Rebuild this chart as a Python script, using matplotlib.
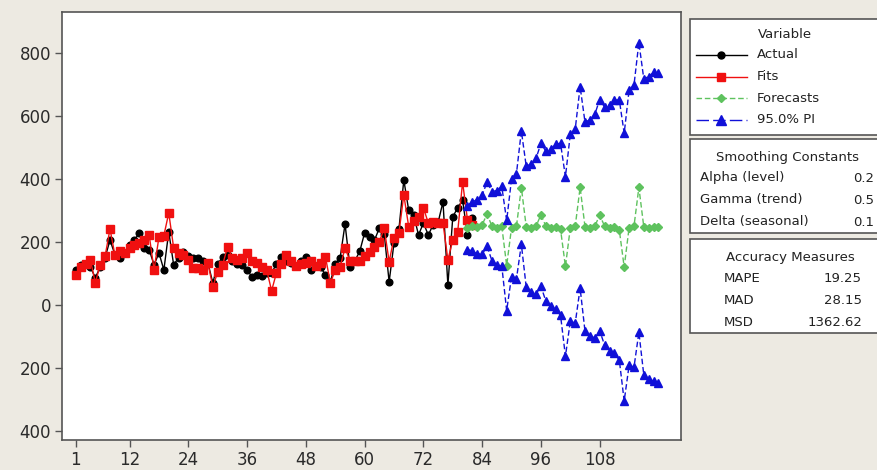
"""Winters' method plot: actual, fits, forecasts and 95% PI."""

import matplotlib

matplotlib.use("Agg")
import matplotlib.pyplot as plt  # noqa: E402
from matplotlib.lines import Line2D  # noqa: E402
from matplotlib.patches import Rectangle  # noqa: E402

ACTUAL = [
    111, 127, 130, 121, 86, 120, 150, 206, 160, 149,
    165, 190, 206, 229, 181, 175, 127, 165, 111, 232,
    127, 150, 168, 155, 150, 149, 140, 133, 70, 130,
    152, 159, 140, 130, 127, 111, 89, 95, 92, 100,
    102, 130, 152, 140, 133, 125, 140, 152, 111, 125,
    120, 95, 73, 130, 150, 257, 121, 140, 170, 229,
    216, 205, 244, 225, 73, 197, 240, 397, 300, 286,
    222, 260, 222, 255, 262, 327, 63, 280, 308, 333,
    222, 276,
]
FITS = [
    95, 121, 130, 143, 70, 127, 155, 241, 159, 170,
    165, 180, 190, 195, 205, 222, 111, 216, 220, 292,
    181, 165, 159, 143, 117, 118, 111, 133, 57, 105,
    127, 184, 150, 143, 149, 165, 140, 133, 120, 111,
    45, 102, 130, 159, 140, 125, 130, 133, 140, 125,
    133, 152, 70, 110, 121, 181, 140, 140, 140, 155,
    168, 185, 200, 244, 137, 213, 229, 349, 248, 265,
    279, 308, 260, 262, 260, 260, 143, 206, 232, 390,
    270, 255,
]
FORECAST_START = 81
FORECASTS = [
    245, 250, 248, 255, 288, 250, 245, 250, 125, 245,
    250, 372, 248, 245, 250, 286, 250, 245, 248, 240,
    122, 245, 250, 373, 248, 245, 250, 285, 250, 245,
    248, 238, 120, 245, 250, 373, 248, 245, 248, 246,
]
PI_UPPER = [
    315, 328, 334, 349, 390, 360, 363, 376, 268, 400,
    417, 552, 440, 448, 465, 513, 488, 495, 510, 513,
    407, 542, 558, 693, 580, 588, 605, 652, 628, 635,
    650, 651, 545, 682, 698, 833, 718, 725, 738, 735,
]
PI_LOWER = [
    175, 172, 162, 161, 186, 140, 127, 124, -18, 90,
    83, 192, 56, 42, 35, 59, 12, -5, -14, -33,
    -163, -52, -58, 53, -84, -98, -105, -82, -128, -145,
    -154, -175, -305, -192, -198, -87, -222, -235, -242, -248,
]
X_TICKS = [1, 12, 24, 36, 48, 60, 72, 84, 96, 108]
Y_TICKS = [-400, -200, 0, 200, 400, 600, 800]
Y_TICK_LABELS = ["400", "200", "0", "200", "400", "600", "800"]
SMOOTHING = [("Alpha (level)", "0.2"), ("Gamma (trend)", "0.5"), ("Delta (seasonal)", "0.1")]
ACCURACY = [("MAPE", "19.25"), ("MAD", "28.15"), ("MSD", "1362.62")]

W, H = 877, 470
BG = "#EDEAE2"
BLACK = "#000000"
RED = "#F01010"
GREEN = "#5EC25E"
BLUE = "#1010D8"
FRAME = "#555555"
TEXT = "#222222"


def fx(x):
    return x / W


def fy(y):
    return 1 - y / H


def main():
    plt.rcParams["font.family"] = ["DejaVu Sans"]
    fig = plt.figure(figsize=(W / 100, H / 100), dpi=100, facecolor=BG)
    ax = fig.add_axes([fx(62), fy(440), (681 - 62) / W, (440 - 12) / H])
    ax.set_facecolor("white")

    t_obs = list(range(1, len(ACTUAL) + 1))
    t_fc = list(range(FORECAST_START, FORECAST_START + len(FORECASTS)))

    ax.plot(t_obs, ACTUAL, color=BLACK, lw=1.0, marker="o", ms=4.8, zorder=3)
    ax.plot(t_obs, FITS, color=RED, lw=1.0, marker="s", ms=5.2, zorder=3)
    ax.plot(t_fc, FORECASTS, color=GREEN, lw=1.0, ls=(0, (4, 2)), marker="D", ms=4.5, zorder=4)
    for band in (PI_UPPER, PI_LOWER):
        ax.plot(t_fc, band, color=BLUE, lw=1.0, ls=(0, (4, 2)), marker="^", ms=6.2, zorder=4)

    ax.set_xlim(-1.8, 124.6)
    ax.set_ylim(-429, 930)
    ax.set_xticks(X_TICKS)
    ax.set_yticks(Y_TICKS)
    ax.set_yticklabels(Y_TICK_LABELS)
    ax.tick_params(direction="out", length=5, width=1, color=FRAME,
                   labelsize=12, labelcolor="#2a2a2a", pad=3)
    for spine in ax.spines.values():
        spine.set_color(FRAME)
        spine.set_linewidth(1.2)

    # side panels
    for top, bottom in [(19, 135), (139, 233), (239, 333)]:
        fig.patches.append(Rectangle((fx(690), fy(bottom)), 0.3, (bottom - top) / H,
                                     transform=fig.transFigure, facecolor="white",
                                     edgecolor=FRAME, lw=1.2, zorder=1))

    fs = 9.5
    fig.text(fx(785), fy(35), "Variable", ha="center", va="center", fontsize=fs, color=TEXT)
    entries = [
        ("Actual", BLACK, "-", "o", 5),
        ("Fits", RED, "-", "s", 5.5),
        ("Forecasts", GREEN, (0, (4, 2)), "D", 4.5),
        ("95.0% PI", BLUE, (0, (9, 3)), "^", 6.5),
    ]
    for i, (label, color, ls, marker, ms) in enumerate(entries):
        y = fy(55 + i * 21.5)
        fig.lines.append(Line2D([fx(696), fx(747)], [y, y], transform=fig.transFigure,
                                color=color, lw=1.0, ls=ls))
        fig.lines.append(Line2D([fx(721)], [y], transform=fig.transFigure, color=color,
                                marker=marker, ms=ms, ls="none"))
        fig.text(fx(757), y, label, ha="left", va="center", fontsize=fs, color=TEXT)

    fig.text(fx(788), fy(157), "Smoothing Constants", ha="center", va="center", fontsize=fs, color=TEXT)
    for i, (name, val) in enumerate(SMOOTHING):
        y = fy(178 + i * 22)
        fig.text(fx(700), y, name, ha="left", va="center", fontsize=fs, color=TEXT)
        fig.text(fx(853), y, val, ha="left", va="center", fontsize=fs, color=TEXT)

    fig.text(fx(790), fy(257), "Accuracy Measures", ha="center", va="center", fontsize=fs, color=TEXT)
    for i, (name, val) in enumerate(ACCURACY):
        y = fy(278 + i * 22)
        fig.text(fx(724), y, name, ha="left", va="center", fontsize=fs, color=TEXT)
        fig.text(fx(862), y, val, ha="right", va="center", fontsize=fs, color=TEXT)

    fig.savefig("out.png", dpi=100, facecolor=BG)
    plt.close(fig)


if __name__ == "__main__":
    main()
